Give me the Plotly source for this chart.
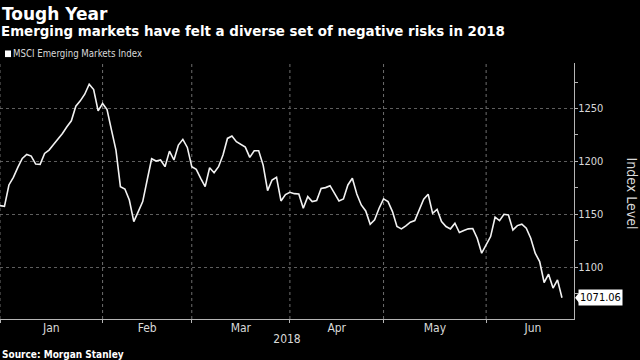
import plotly.graph_objects as go
import pandas as pd

# Trading days (weekdays) shown on the chart
dates = pd.bdate_range("2018-01-01", "2018-06-26")

# MSCI Emerging Markets Index levels
values = [
    1158.2, 1157.5, 1177.7, 1184.9, 1194.3, 1202.8, 1206.6, 1205.0, 1197.5, 1197.2,
    1207.5, 1210.7, 1216.0, 1221.0, 1226.4, 1232.7, 1238.4, 1252.2, 1257.2, 1263.5,
    1273.0, 1267.9, 1247.8, 1254.7, 1249.0, 1229.6, 1210.7, 1176.1, 1173.9, 1163.5,
    1143.0, 1152.5, 1162.0, 1182.4, 1202.5, 1200.3, 1201.3, 1195.0, 1209.7, 1201.3,
    1215.4, 1220.8, 1213.2, 1195.0, 1192.5, 1184.0, 1176.1, 1194.0, 1189.3, 1195.0,
    1206.0, 1221.7, 1223.9, 1218.6, 1216.0, 1213.5, 1203.8, 1210.1, 1210.1, 1196.5,
    1172.3, 1182.4, 1184.9, 1162.6, 1168.6, 1170.8, 1169.5, 1169.2, 1155.7, 1166.7,
    1162.0, 1162.9, 1174.5, 1175.2, 1177.0, 1169.2, 1162.6, 1164.5, 1177.7, 1184.0,
    1169.2, 1158.8, 1153.1, 1140.6, 1144.7, 1155.7, 1164.5, 1162.0, 1152.5, 1138.4,
    1136.2, 1139.0, 1142.5, 1144.0, 1154.7, 1164.2, 1168.9, 1150.9, 1154.7, 1143.1,
    1138.4, 1136.2, 1141.5, 1132.7, 1134.6, 1136.2, 1136.5, 1127.4, 1113.2, 1120.4,
    1128.9, 1147.2, 1144.0, 1150.0, 1149.4, 1135.2, 1139.3, 1140.6, 1136.8, 1127.4,
    1113.2, 1105.3, 1085.5, 1093.4, 1080.2, 1088.0, 1071.06,
]

month_labels = ["Jan", "Feb", "Mar", "Apr", "May", "Jun"]

title = "Tough Year"
subtitle = "Emerging markets have felt a diverse set of negative risks in 2018"
series_name = "MSCI Emerging Markets Index"
y_title = "Index Level"
x_title = "2018"
source = "Source: Morgan Stanley"
last_label = f"{values[-1]:.2f}"

# Trading-day positions (weekends collapsed, as in the original chart)
calendar = pd.bdate_range("2018-01-01", "2018-07-02")
x_pos = list(range(len(dates)))
month_start_idx = [i for i, d in enumerate(calendar) if i == 0 or d.month != calendar[i - 1].month]
month_mid_idx = [(a + b) / 2 for a, b in zip(month_start_idx[:-1], month_start_idx[1:])]
grid_idx = month_start_idx[:-1]

BOLD = "DejaVu Sans, Verdana, sans-serif"
COND = "DejaVu Sans Condensed, DejaVu Sans, sans-serif"
TXT = "#d9d9d9"
GRID = "#5e5e5e"
VGRID = "#6e6e6e"
AX = "#b5b5b5"
XRANGE = [0, 128.7]
YRANGE = [1051, 1293]

fig = go.Figure()
# vertical month-boundary grid lines, drawn as a dotted line trace
gx, gy = [], []
for g in grid_idx:
    gx += [g, g, None]
    gy += [YRANGE[0], YRANGE[1], None]
fig.add_trace(go.Scatter(
    x=gx, y=gy, mode="lines", showlegend=False, hoverinfo="skip",
    line=dict(color=VGRID, width=1, dash="dot"),
))
fig.add_trace(go.Scatter(
    x=x_pos, y=values, mode="lines", name=series_name,
    customdata=[d.strftime("%b %d, %Y") for d in dates],
    hovertemplate="%{customdata}: %{y:.2f}<extra></extra>",
    line=dict(color="#f2f2f2", width=1.6), showlegend=False,
))
# carrier for the month-label axis (draws nothing)
fig.add_trace(go.Scatter(
    x=month_mid_idx, y=[None] * len(month_mid_idx), xaxis="x2", yaxis="y",
    mode="lines", showlegend=False, hoverinfo="skip",
))

fig.update_layout(
    width=640, height=360,
    paper_bgcolor="black", plot_bgcolor="black",
    margin=dict(l=0, r=66, t=63, b=41),
    font=dict(family=COND, color=TXT, size=11),
    xaxis=dict(
        range=XRANGE,
        tickmode="array", tickvals=grid_idx, showticklabels=False,
        showgrid=False,
        ticks="outside", ticklen=3, tickcolor=AX,
        showline=True, linecolor=AX, linewidth=1,
        zeroline=False,
    ),
    xaxis2=dict(
        overlaying="x", anchor="y", side="bottom",
        range=XRANGE,
        tickmode="array", tickvals=month_mid_idx, ticktext=month_labels,
        showgrid=False, ticks="", showline=False, zeroline=False,
        tickfont=dict(size=12, color=TXT, family=COND),
        title=dict(text=x_title, font=dict(size=12, color=TXT, family=COND), standoff=0),
    ),
    yaxis=dict(
        side="right",
        range=YRANGE,
        tick0=0, dtick=50,
        showgrid=True, gridcolor=GRID, griddash="dot", gridwidth=1,
        ticks="outside", ticklen=3, tickcolor=AX,
        ticklabelstandoff=-2,
        minor=dict(tick0=0, dtick=25, ticks="outside", ticklen=3, tickcolor=AX, showgrid=False),
        showline=True, linecolor=AX, linewidth=1,
        tickfont=dict(size=11, color=TXT, family=COND),
        zeroline=False,
    ),
    annotations=[
        dict(text=f"<b>{title}</b>", x=0, y=1.193, xref="paper", yref="paper",
             xanchor="left", yanchor="middle", showarrow=False, xshift=0,
             font=dict(size=17, color="white", family=BOLD)),
        dict(text=f"<b>{subtitle}</b>", x=0, y=1.123, xref="paper", yref="paper",
             xanchor="left", yanchor="middle", showarrow=False, xshift=-1,
             font=dict(size=13.4, color="white", family=BOLD)),
        dict(text=series_name, x=0, y=1.036,
             xref="paper", yref="paper", xanchor="left", yanchor="middle",
             showarrow=False, xshift=11,
             font=dict(size=9.6, color=TXT, family=COND)),
        dict(text=y_title, x=1, y=0.49, xref="paper", yref="paper",
             xanchor="center", yanchor="middle", showarrow=False, xshift=58,
             textangle=90, font=dict(size=14, color=TXT, family=COND)),
        dict(text=f"<b>{source}</b>", x=0, y=-0.1375, xref="paper", yref="paper",
             xanchor="left", yanchor="middle", showarrow=False, xshift=0,
             font=dict(size=10, color="white", family=COND)),
        dict(text=last_label, x=1, y=values[-1], xref="paper", yref="y",
             xanchor="left", yanchor="middle", showarrow=False, xshift=4,
             bgcolor="white", borderpad=1,
             font=dict(size=11, color="black", family=COND)),
    ],
    shapes=[
        # legend swatch
        dict(type="rect", xref="paper", yref="paper", xsizemode="pixel", ysizemode="pixel",
             xanchor=0, yanchor=1.036, x0=5, x1=11, y0=-3.3, y1=3.3,
             fillcolor="white", line=dict(width=0)),
        # pointer of last-value label
        dict(type="path", xref="paper", yref="y", xsizemode="pixel", ysizemode="pixel",
             xanchor=1, yanchor=values[-1], path="M 1,0 L 5,-5 L 5,5 Z",
             fillcolor="white", line=dict(width=0)),
    ],
)

fig.write_html("out.html", config={"displayModeBar": False},
               post_script="document.body.style.margin='0';")
